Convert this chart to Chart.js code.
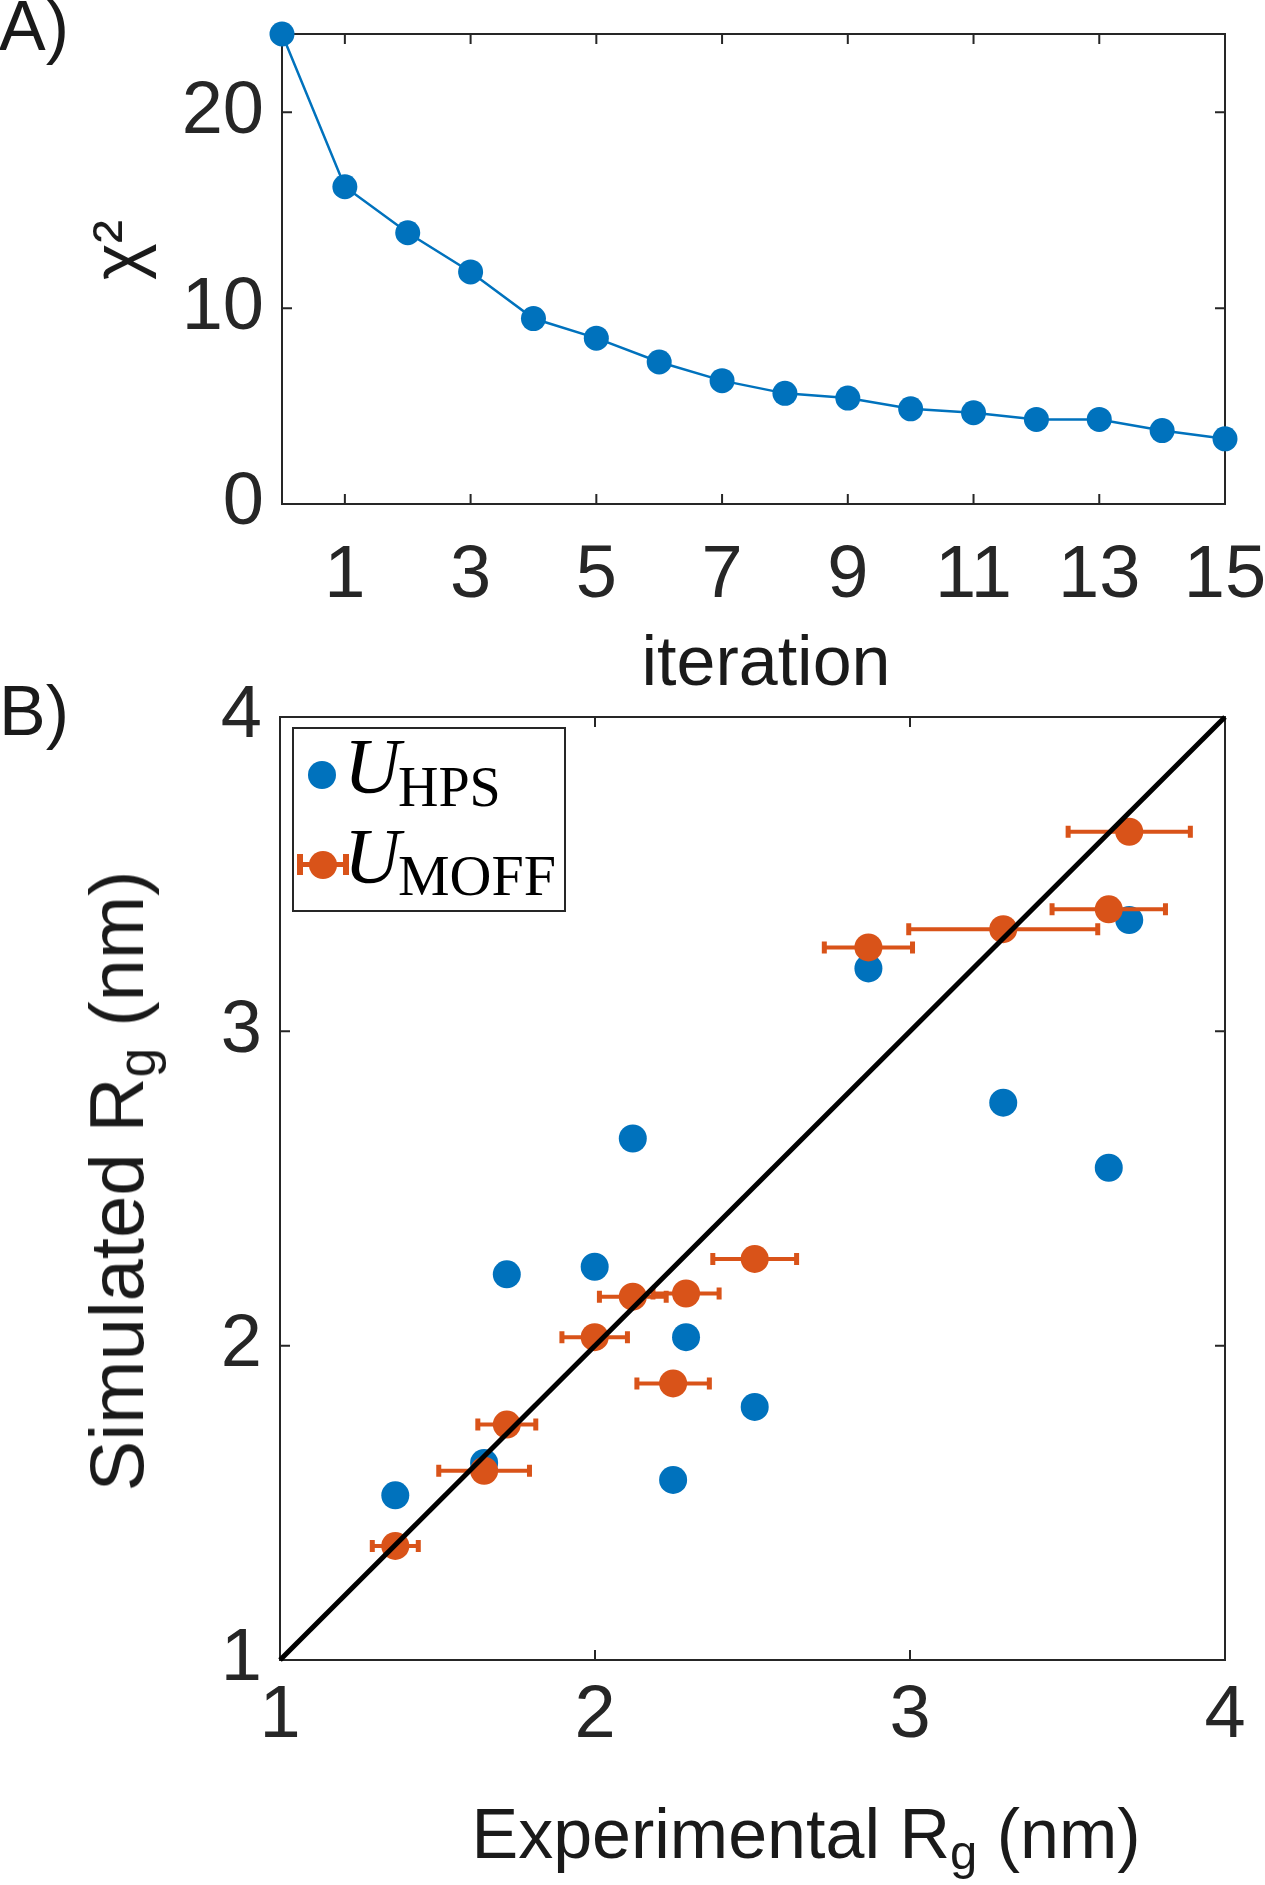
<!DOCTYPE html>
<html>
<head>
<meta charset="utf-8">
<title>Chi-squared convergence and Rg comparison</title>
<script src="https://cdn.jsdelivr.net/npm/chart.js@4.4.1/dist/chart.umd.min.js"></script>
<style>
  html, body { margin: 0; padding: 0; background: #fff; }
  #page { position: relative; width: 1265px; height: 1885px; overflow: hidden;
          font-family: "Liberation Sans", Arial, Helvetica, sans-serif; color: #1a1a1a; }
  canvas { position: absolute; left: 0; }
  #topChart { top: 0; }
  #bottomChart { top: 640px; }
  .lbl { position: absolute; font-size: 70px; line-height: 70px; white-space: nowrap; z-index: 2; }
  .lbl sub { font-size: 0.7em; vertical-align: -0.22em; line-height: 0; }
  .rot { transform: translate(-50%, -50%) rotate(-90deg); }
  .ctr { transform: translateX(-50%); }
  #legend { position: absolute; left: 292px; top: 727px; width: 274px; height: 185px;
            box-sizing: border-box; border: 2px solid #262626; background: #fff; z-index: 3; }
  #legend div { position: absolute; }
  .serif { font-family: "Liberation Serif", "DejaVu Serif", serif; color: #000; white-space: nowrap; }
</style>
</head>
<body>
<div id="page">
  <canvas id="topChart" width="1265" height="700"></canvas>
  <canvas id="bottomChart" width="1265" height="1245"></canvas>

  <div class="lbl" style="left:-1px; top:-9px;">A)</div>
  <div class="lbl" style="left:-1px; top:676px;">B)</div>
  <div class="lbl ctr" style="left:766px; top:626px;">iteration</div>
  <div class="lbl rot" style="left:117px; top:250px;">χ²</div>
  <div class="lbl ctr" style="left:806px; top:1799px;">Experimental R<sub>g</sub> (nm)</div>
  <div class="lbl rot" style="left:117px; top:1181px; font-size:76px; line-height:76px;">Simulated R<sub>g</sub> (nm)</div>

  <div id="legend">
    <div id="hpsMark" style="left:14px; top:32px; width:28px; height:28px; border-radius:50%;"></div>
    <div id="moffBar" style="left:3px; top:133px; width:52px; height:5px;"></div>
    <div id="moffCapL" style="left:3px; top:125px; width:6px; height:21px;"></div>
    <div id="moffCapR" style="left:49px; top:125px; width:6px; height:21px;"></div>
    <div id="moffMark" style="left:15px; top:122px; width:28px; height:28px; border-radius:50%;"></div>
    <div class="serif" style="left:50px; top:-2px; font-size:78px; line-height:78px; font-style:italic;">U</div>
    <div class="serif" style="left:104px; top:30px; font-size:56px; line-height:56px;">HPS</div>
    <div class="serif" style="left:50px; top:88px; font-size:78px; line-height:78px; font-style:italic;">U</div>
    <div class="serif" style="left:104px; top:118px; font-size:58px; line-height:58px;">MOFF</div>
  </div>
</div>

<script>
// A) chi-squared per iteration
const iterations = [0, 1, 2, 3, 4, 5, 6, 7, 8, 9, 10, 11, 12, 13, 14, 15];
const chiSquared = [24.0, 16.2, 13.85, 11.85, 9.47, 8.47, 7.25, 6.3, 5.65, 5.41, 4.86, 4.66, 4.32, 4.32, 3.75, 3.33];
const iterTicks = [1, 3, 5, 7, 9, 11, 13, 15];
const chiTicks = [0, 10, 20];

// B) experimental vs simulated Rg (nm)
const expRg = [1.366, 1.648, 1.720, 1.999, 2.120, 2.289, 2.248, 2.507, 2.868, 3.296, 3.631, 3.696];
const hpsRg = [1.524, 1.627, 2.227, 2.251, 2.659, 2.027, 1.573, 1.805, 3.200, 2.773, 2.566, 3.354];
const moffRg = [1.363, 1.602, 1.749, 2.027, 2.156, 2.166, 1.880, 2.276, 3.267, 3.325, 3.388, 3.635];
const moffErr = [0.073, 0.144, 0.092, 0.104, 0.106, 0.105, 0.115, 0.133, 0.140, 0.300, 0.180, 0.194];
const rgTicks = [1, 2, 3, 4];
const diagLine = [1, 4];

const blue = '#0072BD';
const orange = '#D95319';
const axisColor = '#262626';
const tickFont = { family: '"Liberation Sans", Arial, Helvetica, sans-serif', size: 74 };

// legend colours
document.getElementById('hpsMark').style.background = blue;
['moffBar', 'moffCapL', 'moffCapR', 'moffMark'].forEach(id => {
    document.getElementById(id).style.background = orange;
});

// box around the plot + inward tick marks (matlab style)
const framePlugin = {
    id: 'frame',
    beforeDatasetsDraw(chart) {
        const ctx = chart.ctx;
        const a = chart.chartArea;
        const xs = chart.scales.x, ys = chart.scales.y;
        const len = 10;
        ctx.save();
        ctx.strokeStyle = axisColor;
        ctx.lineWidth = 2;
        ctx.strokeRect(a.left, a.top, a.right - a.left, a.bottom - a.top);
        ctx.beginPath();
        xs.ticks.forEach(t => {
            const px = xs.getPixelForValue(t.value);
            ctx.moveTo(px, a.bottom); ctx.lineTo(px, a.bottom - len);
            ctx.moveTo(px, a.top); ctx.lineTo(px, a.top + len);
        });
        ys.ticks.forEach(t => {
            const py = ys.getPixelForValue(t.value);
            ctx.moveTo(a.left, py); ctx.lineTo(a.left + len, py);
            ctx.moveTo(a.right, py); ctx.lineTo(a.right - len, py);
        });
        ctx.stroke();
        ctx.restore();
    }
};

// horizontal error bars drawn just under their dataset
const errorBarPlugin = {
    id: 'errorBars',
    beforeDatasetDraw(chart, args) {
        const ds = chart.data.datasets[args.index];
        if (!ds.xErr) return;
        const ctx = chart.ctx;
        const xs = chart.scales.x, ys = chart.scales.y;
        ctx.save();
        ctx.strokeStyle = ds.backgroundColor;
        ds.data.forEach((p, i) => {
            const x0 = xs.getPixelForValue(p.x - ds.xErr[i]);
            const x1 = xs.getPixelForValue(p.x + ds.xErr[i]);
            const y = ys.getPixelForValue(p.y);
            ctx.lineWidth = 4;
            ctx.beginPath();
            ctx.moveTo(x0, y); ctx.lineTo(x1, y);
            ctx.stroke();
            ctx.lineWidth = 5;
            ctx.beginPath();
            ctx.moveTo(x0, y - 6); ctx.lineTo(x0, y + 6);
            ctx.moveTo(x1, y - 6); ctx.lineTo(x1, y + 6);
            ctx.stroke();
        });
        ctx.restore();
    }
};

function makeAxis(min, max, tickVals, fixSize, horizontal, pad) {
    return {
        type: 'linear',
        min: min,
        max: max,
        grid: { display: false, drawTicks: false },
        border: { display: false },
        ticks: { font: tickFont, color: axisColor, padding: pad, autoSkip: false, maxRotation: 0 },
        afterBuildTicks: s => { s.ticks = tickVals.map(v => ({ value: v })); },
        afterFit: s => {
            if (horizontal) { s.height = fixSize; s.paddingLeft = 0; s.paddingRight = 0; }
            else { s.width = fixSize; s.paddingTop = 0; s.paddingBottom = 0; }
        }
    };
}

const baseOptions = {
    responsive: false,
    animation: false,
    devicePixelRatio: 1,
    plugins: { legend: { display: false }, tooltip: { enabled: false } }
};

// Vẽ biểu đồ A
const topChart = new Chart(document.getElementById('topChart').getContext('2d'), {
    type: 'line',
    data: {
        datasets: [{
            label: 'chi2',
            data: iterations.map((it, i) => ({ x: it, y: chiSquared[i] })),
            borderColor: blue,
            backgroundColor: blue,
            borderWidth: 2.5,
            pointRadius: 12.5,
            pointBorderWidth: 0,
            pointBackgroundColor: blue,
            tension: 0,
            clip: false
        }]
    },
    options: {
        ...baseOptions,
        layout: { padding: { left: 0, right: 40, top: 34, bottom: 0 } },
        scales: {
            x: makeAxis(0, 15, iterTicks, 196, true, 28),
            y: makeAxis(0, 24, chiTicks, 282, false, 18)
        }
    },
    plugins: [framePlugin]
});

// Vẽ biểu đồ B
const bottomChart = new Chart(document.getElementById('bottomChart').getContext('2d'), {
    type: 'scatter',
    data: {
        datasets: [
            {
                label: 'y = x',
                data: diagLine.map(v => ({ x: v, y: v })),
                showLine: true,
                borderColor: '#000',
                borderWidth: 5,
                pointRadius: 0,
                order: 0,
                clip: false
            },
            {
                label: 'U_MOFF',
                data: expRg.map((x, i) => ({ x: x, y: moffRg[i] })),
                xErr: moffErr,
                backgroundColor: orange,
                pointRadius: 14,
                pointBorderWidth: 0,
                order: 1,
                clip: false
            },
            {
                label: 'U_HPS',
                data: expRg.map((x, i) => ({ x: x, y: hpsRg[i] })),
                backgroundColor: blue,
                pointRadius: 14,
                pointBorderWidth: 0,
                order: 2,
                clip: false
            }
        ]
    },
    options: {
        ...baseOptions,
        layout: { padding: { left: 0, right: 40, top: 77, bottom: 0 } },
        scales: {
            x: makeAxis(1, 4, rgTicks, 225, true, 12),
            y: makeAxis(1, 4, rgTicks, 280, false, 18)
        }
    },
    plugins: [framePlugin, errorBarPlugin]
});
</script>
</body>
</html>
